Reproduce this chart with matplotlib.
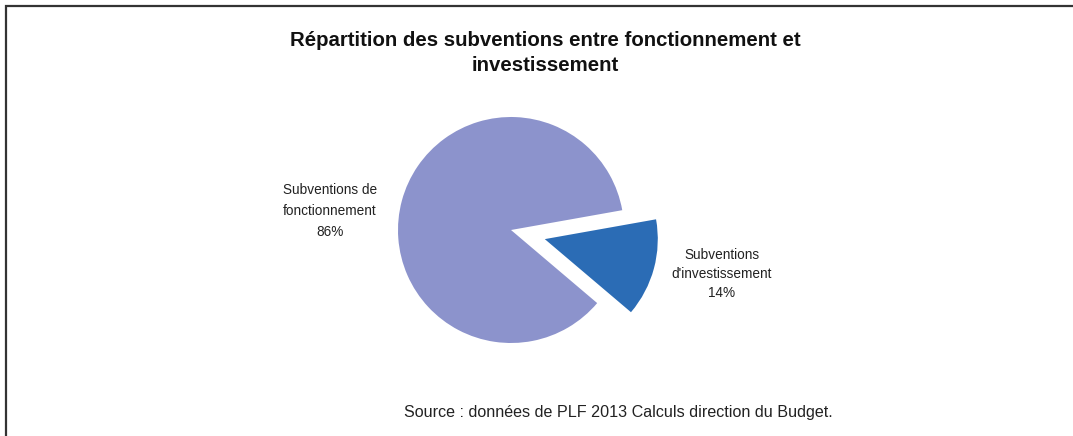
"""Répartition des subventions entre fonctionnement et investissement (PLF 2013)."""

import matplotlib
matplotlib.use('Agg')
import matplotlib.pyplot as plt

# ── Data ──────────────────────────────────────────────────────────────────────
categories = ['Subventions de\nfonctionnement', "Subventions\nd'investissement"]
shares     = [86, 14]
colors     = ['#8c93cc', '#2b6cb5']

title  = 'Répartition des subventions entre fonctionnement et\ninvestissement'
source = 'Source : données de PLF 2013 Calculs direction du Budget.'

W, H = 1073, 436

plt.rcParams['font.family'] = ['Liberation Sans', 'DejaVu Sans']

fig = plt.figure(figsize=(W / 100, H / 100), dpi=100)
ax = fig.add_axes([0, 0, 1, 1])

# frame (only top and left edges visible in the crop)
ax.plot([5.5, 5.5, W + 5], [-5, H - 6.5, H - 6.5], color='#333333', lw=1.6,
        solid_joinstyle='miter', clip_on=False)

# ── Pie ───────────────────────────────────────────────────────────────────────
radius = 113
# explode is in data units here (axes are in pixel units)
wedges, _ = ax.pie(shares, colors=colors, center=(511, H - 230), radius=radius,
                   startangle=-40.3, counterclock=False,
                   explode=[0, 35], frame=True,
                   wedgeprops=dict(linewidth=0))
ax.set_xlim(0, W)
ax.set_ylim(0, H)
ax.set_aspect('equal')
ax.axis('off')

label_pos = [(330, H - 211), (722, H - 274)]
spacing = [1.6, 1.45]
for cat, val, (x, y), ls in zip(categories, shares, label_pos, spacing):
    ax.text(x, y, f'{cat}\n{val}%', ha='center', va='center', fontsize=9.8,
            color='#222222', linespacing=ls)

ax.text(545, H - 53, title, ha='center', va='center', fontsize=14.7,
        fontweight='bold', color='#111111', linespacing=1.45)
ax.text(618, H - 413, source, ha='center', va='center', fontsize=11.6,
        color='#222222')

fig.savefig('out.png', dpi=100)
